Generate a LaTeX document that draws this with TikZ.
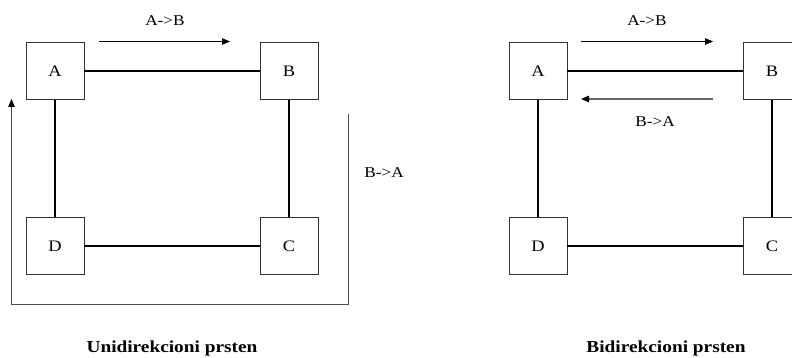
\documentclass[tikz,border=0pt]{standalone}
\usepackage{fontspec}
\setmainfont{Liberation Serif}[FakeStretch=1.15]
\usetikzlibrary{arrows.meta}
\begin{document}
\begin{tikzpicture}[x=1pt,y=-1pt,
  station/.style={draw=black!80,line width=0.8pt,fill=white,minimum width=58pt,minimum height=57pt,inner sep=0pt,font=\fontsize{16}{19}\selectfont},
  link/.style={line width=1.6pt,black},
  flow/.style={line width=0.9pt,-{Triangle[length=8pt,width=6.5pt,black]}},
  lbl/.style={font=\fontsize{15}{18}\selectfont,inner sep=0pt},
  caption/.style={font=\fontsize{16.8}{20}\selectfont\bfseries,inner sep=0pt,anchor=base}]
\useasboundingbox (0,0) rectangle (792,358);
\clip (0,0) rectangle (792,358);

% ---- unidirectional ring ----
\node[station] (uA) at (55,71) {A};
\node[station] (uB) at (289,71) {B};
\node[station] (uD) at (55,246) {D};
\node[station] (uC) at (289,246) {C};
\draw[link] (uA) -- (uB);
\draw[link] (uB) -- (uC);
\draw[link] (uC) -- (uD);
\draw[link] (uD) -- (uA);

\coordinate (uf1) at (99,41.5);
\coordinate (uf2) at (230,41.5);
\draw[flow] (uf1) -- (uf2);
\node[lbl] (ulab1) at (165,21) {A->B};

\coordinate (ur1) at (348,114);
\coordinate (ur2) at (348,304);
\coordinate (ur3) at (11.5,304);
\coordinate (ur4) at (11.5,99);
\draw[flow,draw=black!70] (ur1) -- (ur2) -- (ur3) -- (ur4);
\node[lbl] (ulab2) at (384,173) {B->A};

\node[caption] (ucap) at (172,352) {Unidirekcioni prsten};

% ---- bidirectional ring ----
\node[station] (bA) at (538,71) {A};
\node[station] (bB) at (772,71) {B};
\node[station] (bD) at (538,246) {D};
\node[station] (bC) at (772,246) {C};
\draw[link] (bA) -- (bB);
\draw[link] (bB) -- (bC);
\draw[link] (bC) -- (bD);
\draw[link] (bD) -- (bA);

\coordinate (bf1) at (581,41.5);
\coordinate (bf2) at (713,41.5);
\draw[flow] (bf1) -- (bf2);
\node[lbl] (blab1) at (647,21) {A->B};

\coordinate (bg1) at (713,99);
\coordinate (bg2) at (581,99);
\draw[flow,draw=black!60,line width=1.4pt] (bg1) -- (bg2);
\node[lbl] (blab2) at (655,122) {B->A};

\node[caption] (bcap) at (666,352) {Bidirekcioni prsten};
\end{tikzpicture}
\end{document}
